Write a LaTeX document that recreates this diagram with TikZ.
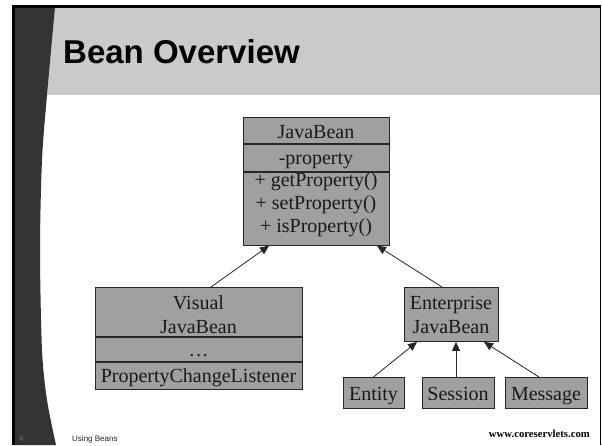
\documentclass[tikz,border=0pt]{standalone}
\usepackage{fontspec}
\setmainfont{Liberation Serif}
\setsansfont{Liberation Sans}
\usetikzlibrary{arrows.meta}
\definecolor{hdr}{RGB}{202,202,202}
\definecolor{stripc}{RGB}{51,51,51}
\definecolor{boxfill}{RGB}{160,160,160}
\begin{document}
\begin{tikzpicture}[x=1pt,y=-1pt,
  umlpart/.style={draw=black!85, fill=boxfill, line width=0.9pt, inner sep=0pt, align=center,
    anchor=north, font=\fontsize{20}{24}\selectfont, text=black!90},
  inherit/.style={draw=black!85, line width=0.8pt, -{Triangle[length=9pt,width=8pt]}},
]
\useasboundingbox (0,0) rectangle (602,445);
\fill[white] (0,0) rectangle (602,445);
\fill[hdr] (14,7) rectangle (600,95);
\fill[stripc] (14,7) -- plot[smooth] coordinates {(55,7) (47,95) (42,160) (40,250) (42,350) (47,400) (56,445)} -- (14,445) -- cycle;
\draw[line width=3pt] (13.5,445) -- (13.5,6.5) -- (601,6.5);
\draw[line width=1.5pt] (600.5,6) -- (600.5,445);
% title and footer
\node[anchor=base west, inner sep=0pt, font=\fontsize{33}{33}\selectfont\sffamily\bfseries] (title) at (63,63) {Bean Overview};
\node[anchor=base west, inner sep=0pt, font=\fontsize{8}{8}\selectfont\sffamily, text=black!55] (pg) at (19,441) {4};
\node[anchor=base west, inner sep=0pt, font=\fontsize{8}{8}\selectfont\sffamily, text=black!85] (foot) at (72,441) {Using Beans};
\node[anchor=base east, inner sep=0pt, font=\fontsize{10.7}{11}\selectfont\bfseries] (url) at (590,437) {www.coreservlets.com};
% JavaBean
\node[umlpart, minimum width=146, text height=21, text depth=5] (jb1) at (316,117) {JavaBean};
\node[umlpart, minimum width=146, text height=20, text depth=7] (jb2) at (jb1.south) {-property};
\node[umlpart, minimum width=146, text height=60, text depth=13, font=\fontsize{20}{23}\selectfont] (jb3) at (jb2.south) {+ getProperty()\\+ setProperty()\\+ isProperty()};
% Visual JavaBean
\node[umlpart, minimum width=207, text height=46, text depth=3] (vis1) at (198.5,287) {Visual\\JavaBean};
\node[umlpart, minimum width=207, text height=19, text depth=5] (vis2) at (vis1.south) {…};
\node[umlpart, minimum width=207, text height=20, text depth=7] (vis3) at (vis2.south) {PropertyChangeListener};
% Enterprise
\node[umlpart, minimum width=94, text height=46, text depth=8] (ejb) at (451,287) {Enterprise\\JavaBean};
\node[umlpart, minimum width=61, text height=23, text depth=8] (ent) at (373.5,377) {Entity};
\node[umlpart, minimum width=72, text height=23, text depth=8] (sess) at (458,377) {Session};
\node[umlpart, minimum width=82, text height=23, text depth=8] (msg) at (546,377) {Message};
% connectors
\draw[inherit] ([xshift=12.5]vis1.north) -- ([xshift=-47]jb3.south);
\draw[inherit] ([xshift=-9]ejb.north) -- ([xshift=61]jb3.south);
\draw[inherit] (ent.north) -- ([xshift=-34]ejb.south);
\draw[inherit] ([xshift=-2]sess.north) -- ([xshift=-2]sess.north |- ejb.south);
\draw[inherit] ([xshift=-7]msg.north) -- ([xshift=33]ejb.south);
\end{tikzpicture}
\end{document}
